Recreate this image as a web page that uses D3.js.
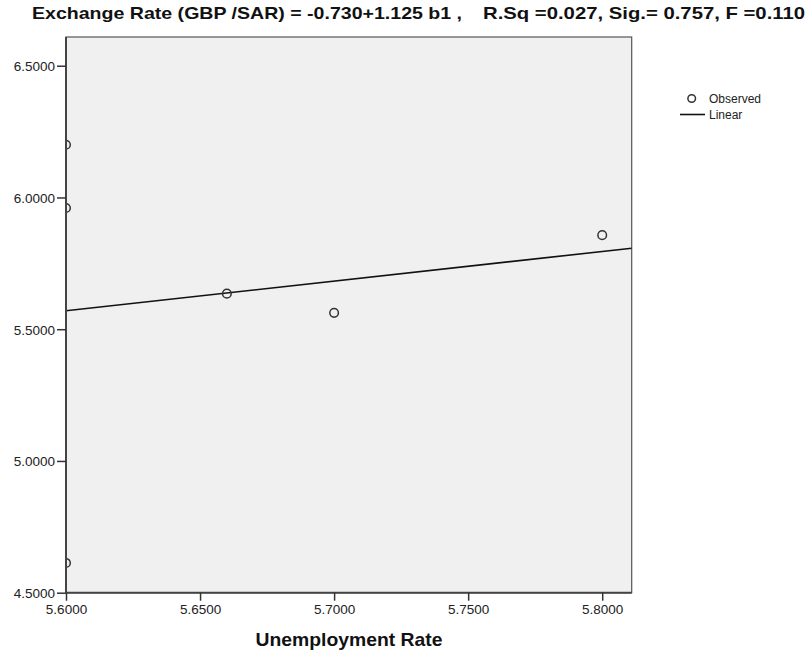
<!DOCTYPE html>
<html><head><meta charset="utf-8">
<script src="https://cdn.jsdelivr.net/npm/d3@7/dist/d3.min.js"></script>
<style>body{margin:0;background:#fff;} text{font-family:"Liberation Sans",Arial,sans-serif;}</style>
</head><body>
<svg id="c" width="806" height="652"></svg>
<script>
const unemployment = [5.60, 5.60, 5.60, 5.66, 5.70, 5.80];
const exchangeRate = [6.200, 5.960, 4.613, 5.635, 5.562, 5.857];
const intercept = -0.730, slope = 1.125;
const xTicks = [5.60, 5.65, 5.70, 5.75, 5.80];
const yTicks = [4.5, 5.0, 5.5, 6.0, 6.5];
const xDomain = [5.60, 5.811];
const yDomain = [4.50, 6.609];
const titleLeft = "Exchange Rate (GBP /SAR) = -0.730+1.125 b1 ,";
const titleRight = "R.Sq =0.027, Sig.= 0.757, F =0.110";
const xLabel = "Unemployment Rate";
const legendItems = ["Observed", "Linear"];

const svg = d3.select("#c");
const L = 66, T = 37, R = 631.7, B = 592.7;
const x = d3.scaleLinear().domain(xDomain).range([L, R]);
const y = d3.scaleLinear().domain(yDomain).range([B, T]);

svg.append("rect").attr("x", L).attr("y", T).attr("width", R - L).attr("height", B - T)
  .attr("fill", "#f0f0f0").attr("stroke", "#555").attr("stroke-width", 1.2);

svg.append("defs").append("clipPath").attr("id", "clip")
  .append("rect").attr("x", L).attr("y", T).attr("width", R - L).attr("height", B - T);

const g = svg.append("g").attr("clip-path", "url(#clip)");
g.append("line")
  .attr("x1", x(xDomain[0])).attr("y1", y(intercept + slope * xDomain[0]))
  .attr("x2", x(xDomain[1])).attr("y2", y(intercept + slope * xDomain[1]))
  .attr("stroke", "#111").attr("stroke-width", 1.6);
g.selectAll("circle.p").data(unemployment.map((u, i) => [u, exchangeRate[i]])).enter()
  .append("circle").attr("class", "p")
  .attr("cx", d => x(d[0])).attr("cy", d => y(d[1])).attr("r", 4.3)
  .attr("fill", "none").attr("stroke", "#333").attr("stroke-width", 1.5);

// axes
const xa = svg.append("g").attr("transform", `translate(0,${B})`)
  .call(d3.axisBottom(x).tickValues(xTicks).tickFormat(d3.format(".4f")).tickSize(8).tickPadding(4));
const ya = svg.append("g").attr("transform", `translate(${L},0)`)
  .call(d3.axisLeft(y).tickValues(yTicks).tickFormat(d3.format(".4f")).tickSize(9).tickPadding(2));
[xa, ya].forEach(a => {
  a.select(".domain").attr("stroke", "#444").attr("stroke-width", 2);
  a.selectAll(".tick line").attr("stroke", "#333").attr("stroke-width", 1.5);
  a.selectAll(".tick text").attr("fill", "#222").style("font-size", "13.5px");
});
xa.select(".domain").attr("d", `M${L},0H${R}`);
ya.select(".domain").attr("d", `M0,${B}V${T}`);
ya.selectAll(".tick text").attr("dy", "0.36em");

// title
svg.append("text").attr("x", 32).attr("y", 19).attr("font-weight", "bold").style("font-size", "17px")
  .attr("fill", "#111").attr("textLength", 430).attr("lengthAdjust", "spacingAndGlyphs").text(titleLeft);
svg.append("text").attr("x", 483).attr("y", 19).attr("font-weight", "bold").style("font-size", "17px")
  .attr("fill", "#111").attr("textLength", 322).attr("lengthAdjust", "spacingAndGlyphs").text(titleRight);

// x label
svg.append("text").attr("x", 349).attr("y", 646).attr("text-anchor", "middle")
  .attr("font-weight", "bold").style("font-size", "19px").attr("fill", "#111")
  .attr("textLength", 187).attr("lengthAdjust", "spacingAndGlyphs").text(xLabel);

// legend
const lg = svg.append("g");
lg.append("circle").attr("cx", 691.7).attr("cy", 98.5).attr("r", 3.8)
  .attr("fill", "none").attr("stroke", "#333").attr("stroke-width", 1.5);
lg.append("line").attr("x1", 680).attr("x2", 705).attr("y1", 114.5).attr("y2", 114.5)
  .attr("stroke", "#111").attr("stroke-width", 1.6);
lg.selectAll("text").data(legendItems).enter().append("text")
  .attr("x", 709).attr("y", (d, i) => 103 + i * 16).style("font-size", "12px").attr("fill", "#222").text(d => d);
</script>
</body></html>
